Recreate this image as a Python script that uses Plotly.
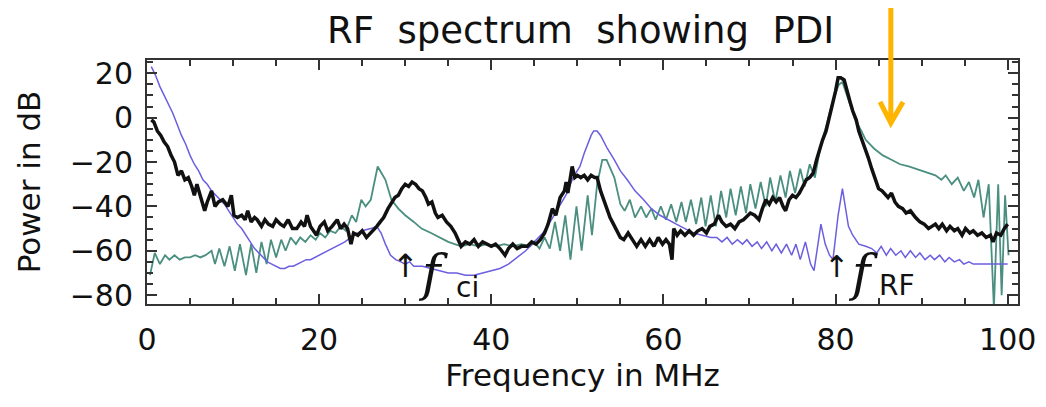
import plotly.graph_objects as go

# ---------------- data ----------------
black_freq = [0.5, 0.8, 1.2, 1.6, 2.0, 2.4, 2.8, 3.2, 3.6, 4.0, 4.4, 4.8, 5.2, 5.5, 5.8, 6.2, 6.7, 7.0, 7.5, 7.9,
              8.3, 8.8, 9.4, 9.8, 10.1, 10.5, 11.0, 11.4, 11.7, 12.1, 12.5, 12.8, 13.3, 13.7, 14.1, 14.6, 15.0, 15.5, 15.9, 16.4,
              16.9, 17.4, 17.9, 18.3, 18.6, 19.0, 19.4, 19.7, 20.1, 20.6, 21.0, 21.5, 22.1, 22.5, 22.9, 23.3, 23.7, 24.0, 24.5, 25.0,
              25.5, 26.0, 26.7, 27.1, 27.5, 28.0, 28.3, 28.8, 29.2, 29.6, 30.0, 30.4, 30.8, 31.2, 31.6, 32.0, 32.4, 32.7, 33.1, 33.5,
              33.8, 34.3, 34.8, 35.3, 35.8, 36.2, 36.5, 37.0, 37.5, 38.0, 38.5, 39.0, 39.5, 40.0, 40.5, 41.0, 41.6, 42.0, 42.5, 43.0,
              43.5, 44.2, 44.7, 45.2, 45.7, 46.2, 46.6, 47.1, 47.5, 48.0, 48.5, 48.7, 48.9, 49.2, 49.4, 49.7, 50.0, 50.4, 50.8, 51.2,
              51.6, 52.0, 52.3, 52.7, 53.2, 53.8, 54.2, 54.6, 55.0, 55.4, 55.9, 56.4, 56.9, 57.4, 57.9, 58.4, 58.9, 59.4, 59.9, 60.3,
              60.7, 61.0, 61.2, 61.6, 62.0, 62.5, 63.0, 63.5, 64.0, 64.5, 65.0, 65.4, 65.9, 66.4, 66.8, 67.3, 67.8, 68.3, 68.8, 69.3,
              69.6, 70.1, 70.6, 71.1, 71.5, 71.9, 72.3, 72.7, 73.1, 73.5, 73.9, 74.2, 74.6, 75.0, 75.4, 75.8, 76.2, 76.6, 77.0, 77.4,
              77.8, 78.1, 78.5, 78.9, 79.3, 79.7, 80.0, 80.3, 80.6, 81.0, 81.4, 81.7, 82.0, 82.4, 82.7, 83.1, 83.5, 83.8, 84.2, 84.6,
              85.0, 85.4, 85.8, 86.1, 86.5, 86.9, 87.3, 87.8, 88.2, 88.7, 89.3, 89.8, 90.3, 90.8, 91.2, 91.6, 92.0, 92.4, 92.9, 93.3,
              93.8, 94.2, 94.7, 95.1, 95.6, 96.0, 96.5, 97.0, 97.5, 98.0, 98.3, 98.7, 99.2, 99.6, 100.0]
black_db = [-1, -2, -6, -8, -11, -13, -17, -20, -26, -24, -28, -27, -31, -35, -30, -36, -42, -38, -33, -40,
            -38, -37, -40, -35, -44, -45, -44, -46, -42, -47, -45, -46, -49, -46, -48, -49, -46, -48, -49, -46,
            -50, -50, -47, -49, -44, -49, -51, -53, -49, -47, -51, -49, -46, -50, -48, -50, -57, -52, -53, -51,
            -54, -52, -49, -47, -45, -41, -39, -36, -35, -32, -30, -31, -29, -30, -32, -33, -36, -39, -38, -43,
            -45, -44, -47, -49, -52, -55, -58, -56, -57, -55, -58, -56, -57, -58, -57, -59, -62, -59, -57, -59,
            -58, -58, -56, -57, -55, -52, -48, -41, -44, -36, -33, -29, -34, -28, -22, -27, -26, -27, -26, -28,
            -26, -27, -27, -33, -39, -45, -48, -51, -54, -55, -52, -55, -58, -55, -58, -55, -58, -54, -57, -55,
            -57, -64, -50, -53, -51, -53, -51, -53, -51, -50, -52, -49, -48, -44, -47, -49, -48, -50, -47, -46,
            -45, -43, -44, -46, -41, -37, -39, -36, -38, -36, -40, -42, -37, -35, -36, -34, -31, -28, -27, -25,
            -19, -15, -10, -6, 0, 7, 12, 18, 18, 17, 12, 7, 3, -1, -6, -10, -15, -18, -23, -27,
            -32, -33, -35, -36, -34, -38, -40, -41, -43, -42, -45, -47, -48, -50, -49, -48, -50, -48, -51, -49,
            -51, -50, -53, -50, -52, -51, -53, -52, -54, -53, -56, -52, -53, -50, -48]

blue_freq = [0.5, 1.0, 1.5, 2.0, 2.5, 3.0, 3.5, 4.0, 4.5, 5.0, 5.5, 6.0, 6.5, 7.0, 7.5, 8.0, 8.5, 9.0, 9.5, 10.0,
             10.5, 11.0, 11.5, 12.0, 12.5, 13.0, 13.5, 14.0, 14.5, 15.0, 15.5, 16.0, 16.5, 17.0, 17.5, 18.0, 18.5, 19.0, 20.0, 21.0,
             22.0, 23.0, 24.0, 25.0, 26.0, 26.7, 27.2, 27.7, 28.3, 28.9, 29.5, 30.0, 30.5, 31.0, 32.0, 33.0, 34.0, 35.0, 36.0, 37.0,
             38.0, 39.0, 40.0, 41.0, 42.0, 43.0, 44.0, 45.0, 46.0, 47.0, 48.0, 48.8, 49.5, 50.3, 50.8, 51.2, 51.6, 51.9, 52.3, 52.7,
             53.1, 53.5, 54.3, 55.0, 55.8, 56.7, 57.7, 58.6, 59.6, 60.5, 61.5, 62.5, 63.5, 64.5, 65.5, 66.2, 66.8, 67.4, 68.0, 68.6,
             69.2, 69.7, 70.3, 70.9, 71.4, 72.0, 72.6, 73.1, 73.7, 74.3, 74.9, 75.4, 75.9, 76.5, 77.1, 77.5, 78.3, 78.8, 79.3, 79.7,
             80.3, 80.8, 81.5, 82.0, 82.7, 83.5, 84.2, 84.8, 85.3, 85.9, 86.4, 87.0, 87.6, 88.1, 88.7, 89.3, 89.8, 90.4, 91.0, 91.5,
             92.1, 92.7, 93.2, 93.8, 94.4, 94.9, 95.5, 96.0, 97.0, 98.0, 99.0, 100.0]
blue_db = [23, 19, 14, 10, 6, 2, -3, -8, -12, -17, -21, -24, -28, -30, -33, -35, -37, -39, -42, -45,
           -48, -50, -53, -56, -59, -61, -63, -65, -66, -67, -68, -68, -67, -67, -66, -65, -64, -64, -62, -60,
           -58, -56, -53, -51, -50, -49, -52, -57, -62, -64, -65, -66, -65, -67, -67, -68, -69, -70, -70, -71,
           -71, -70, -69, -68, -66, -63, -60, -56, -52, -46, -39, -34, -27, -22, -16, -12, -8, -6, -6, -8,
           -11, -14, -19, -24, -28, -33, -37, -41, -44, -46, -48, -50, -52, -53, -54, -54, -56, -54, -57, -55,
           -57, -55, -58, -56, -59, -56, -60, -57, -61, -57, -62, -57, -64, -56, -66, -69, -48, -57, -62, -64,
           -44, -32, -49, -53, -57, -58, -59, -61, -58, -62, -59, -62, -60, -63, -60, -63, -61, -64, -62, -64,
           -62, -65, -63, -65, -64, -66, -65, -66, -66, -66, -66, -66]

green_freq = [0.35, 0.9, 1.5, 2.1, 2.6, 3.2, 3.8, 4.4, 5.0, 5.6, 6.2, 6.8, 7.5, 7.9, 8.4, 9.0, 9.6, 10.2, 10.8, 11.5,
              12.1, 12.7, 13.3, 13.9, 14.4, 15.0, 15.6, 16.1, 16.7, 17.3, 17.8, 18.4, 19.0, 19.6, 20.1, 20.7, 21.3, 21.9, 22.5, 23.1,
              23.8, 24.3, 24.9, 25.4, 26.0, 26.8, 27.7, 28.4, 29.2, 30.0, 31.0, 31.9, 33.0, 34.0, 35.0, 36.5, 37.5, 38.5, 39.5, 40.5,
              41.5, 42.5, 43.5, 44.5, 45.0, 45.6, 46.2, 46.8, 47.4, 48.0, 48.6, 49.2, 49.9, 50.5, 51.2, 51.7, 52.3, 52.9, 53.4, 54.3,
              55.0, 55.5, 56.1, 56.7, 57.4, 58.0, 58.6, 59.1, 59.7, 60.3, 60.9, 61.5, 62.1, 62.6, 63.2, 63.8, 64.4, 64.9, 65.5, 66.1,
              66.7, 67.3, 67.8, 68.4, 69.0, 69.6, 70.1, 70.7, 71.3, 71.9, 72.4, 73.0, 73.6, 74.2, 74.7, 75.3, 75.9, 76.4, 77.0, 77.6,
              78.2, 78.9, 79.5, 80.0, 80.4, 80.8, 81.4, 82.3, 83.0, 83.5, 84.5, 85.5, 86.5, 87.5, 88.5, 89.3, 90.0, 91.0, 91.6, 92.3,
              92.8, 93.5, 94.2, 94.9, 95.5, 96.1, 96.6, 97.2, 97.8, 98.4, 98.9, 99.3, 99.7, 100.1]
green_db = [-71, -61, -66, -62, -64, -62, -64, -63, -63, -62, -63, -62, -60, -66, -59, -67, -58, -69, -57, -71,
            -57, -70, -56, -66, -55, -63, -55, -60, -54, -57, -54, -56, -53, -55, -52, -54, -51, -52, -49, -51,
            -44, -47, -37, -40, -37, -22, -28, -37, -41, -44, -47, -50, -52, -54, -56, -58, -57, -58, -57, -58,
            -57, -58, -57, -58, -56, -59, -54, -59, -47, -60, -44, -64, -40, -60, -35, -53, -30, -19, -19, -27,
            -39, -42, -37, -45, -40, -45, -41, -46, -40, -46, -39, -47, -38, -47, -37, -48, -36, -49, -35, -49,
            -33, -45, -32, -44, -31, -43, -30, -41, -29, -40, -27, -38, -26, -36, -24, -34, -23, -31, -21, -27,
            -14, -4, 5, 11, 15, 16, 9, -1, -6, -10, -14, -17, -19, -21, -22, -23, -24, -25, -26, -28,
            -26, -30, -27, -33, -29, -36, -28, -45, -30, -86, -30, -80, -35, -62]

x_tick_vals = [0, 20, 40, 60, 80, 100]
y_tick_vals = [20, 0, -20, -40, -60, -80]
y_tick_text = ["20", "0", "\u221220", "\u221240", "\u221260", "\u221280"]

# ---------------- figure ----------------
FONT = "DejaVu Sans"
fig = go.Figure()
fig.add_trace(go.Scatter(x=green_freq, y=green_db, mode="lines",
                         line=dict(color="#4a8f7f", width=1.8), showlegend=False))
fig.add_trace(go.Scatter(x=blue_freq, y=blue_db, mode="lines",
                         line=dict(color="#6b5ee0", width=1.5), showlegend=False))
fig.add_trace(go.Scatter(x=black_freq, y=black_db, mode="lines",
                         line=dict(color="#111111", width=3.5), showlegend=False))

axis_common = dict(showline=True, linecolor="#333333", linewidth=2, mirror="allticks",
                   ticks="inside", ticklen=10, tickwidth=1.5, tickcolor="#333333",
                   showgrid=False, zeroline=False, automargin=False)

fig.update_xaxes(range=[0, 101.2], tickvals=x_tick_vals,
                 minor=dict(dtick=5, ticks="inside", ticklen=6, tickcolor="#333333", showgrid=False),
                 tickfont=dict(family=FONT, size=30, color="#111111"), ticklabelstandoff=8,
                 title=dict(text="Frequency in MHz", font=dict(family=FONT, size=31, color="#111111"), standoff=4),
                 **axis_common)
fig.update_yaxes(range=[-84, 26], tickvals=y_tick_vals, ticktext=y_tick_text,
                 minor=dict(dtick=5, ticks="inside", ticklen=6, tickcolor="#333333", showgrid=False),
                 tickfont=dict(family=FONT, size=30, color="#111111"), ticklabelstandoff=6,
                 title=dict(text="Power in dB", font=dict(family=FONT, size=31, color="#111111"), standoff=20),
                 **axis_common)

annos = [
    dict(x=30.0, y=-67, text="\u2191", font=dict(family=FONT, size=32, color="#111111")),
    dict(x=33.2, y=-70, text="<i>f</i>", font=dict(family="DejaVu Serif", size=50, color="#111111")),
    dict(x=37.2, y=-76.5, text="ci", font=dict(family=FONT, size=28, color="#111111")),
    dict(x=80.1, y=-67, text="\u2191", font=dict(family=FONT, size=30, color="#111111")),
    dict(x=83.2, y=-70, text="<i>f</i>", font=dict(family="DejaVu Serif", size=50, color="#111111")),
    dict(x=87.1, y=-75.5, text="RF", font=dict(family=FONT, size=28, color="#111111")),
]
for a in annos:
    a.update(xref="x", yref="y", showarrow=False, xanchor="center", yanchor="middle")
fig.update_layout(annotations=annos)

# orange pointer arrow (decoration above the RF peak)
fig.add_shape(type="path", xref="paper", yref="paper",
              path="M 0.854 1.26 L 0.854 0.747 M 0.8416 0.828 L 0.854 0.742 L 0.868 0.828",
              line=dict(color="#FFB400", width=5))

# the page body adds an 8px margin on every side, so the figure is sized to fit inside it
fig.update_layout(
    width=1030, height=391,
    margin=dict(l=139, r=20, t=52, b=95, autoexpand=False),
    paper_bgcolor="white", plot_bgcolor="white",
    title=dict(text="RF  spectrum  showing  PDI", x=0.556, xanchor="center", y=0.944, yanchor="middle",
               font=dict(family=FONT, size=37, color="#111111")),
)

fig.write_html("out.html")
